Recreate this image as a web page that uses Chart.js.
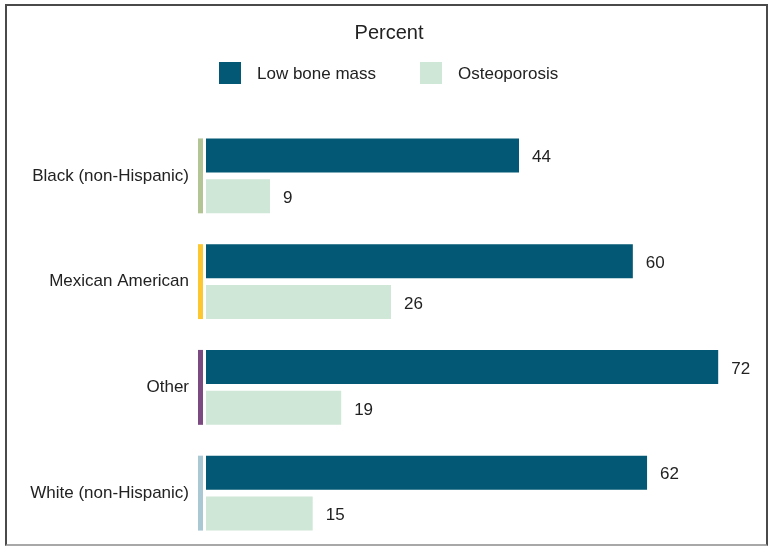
<!DOCTYPE html>
<html>
<head>
<meta charset="utf-8">
<script src="https://cdn.jsdelivr.net/npm/chart.js@4.4.1/dist/chart.umd.min.js"></script>
<style>
    html, body { margin: 0; padding: 0; background: #fff; }
    #wrap { position: relative; width: 768px; height: 546px; }
    #frame {
        position: absolute; left: 5px; top: 4px; width: 759px; height: 538px;
        border: 2px solid #4a4a4a; border-bottom-color: #a8a8a8;
        pointer-events: none;
    }
</style>
</head>
<body>
<div id="wrap">
    <canvas id="chart" width="768" height="546"></canvas>
    <div id="frame"></div>
</div>
<script>
'use strict';

const categories = ['Black (non-Hispanic)', 'Mexican American', 'Other', 'White (non-Hispanic)'];
const lowBoneMass = [44, 60, 72, 62];
const osteoporosis = [9, 26, 19, 15];
const groupColors = ['#b3c595', '#fdc82f', '#7b4a80', '#aac8d4'];

const fontFamily = '"Liberation Sans", Arial, Helvetica, sans-serif';
const textColor = '#222';

// custom legend, drawn above the bars
const legendPlugin = {
    id: 'customLegend',
    afterDraw (chart) {
        const ctx = chart.ctx;
        const items = [
            { x: 219, ds: chart.data.datasets[0] },
            { x: 420, ds: chart.data.datasets[1] }
        ];
        ctx.save();
        ctx.font = `17px ${fontFamily}`;
        ctx.textBaseline = 'middle';
        ctx.textAlign = 'left';
        items.forEach((item) => {
            ctx.fillStyle = item.ds.backgroundColor;
            ctx.fillRect(item.x, 62, 22, 22);
            ctx.fillStyle = textColor;
            ctx.fillText(item.ds.label, item.x + 38, 74);
        });
        ctx.restore();
    }
};

// coloured marker left of each group + value labels
const extrasPlugin = {
    id: 'extras',
    afterDatasetsDraw (chart) {
        const ctx = chart.ctx;
        const top = chart.getDatasetMeta(0).data;
        const bottom = chart.getDatasetMeta(1).data;
        ctx.save();
        top.forEach((bar, i) => {
            const y1 = bar.y - bar.height / 2;
            const y2 = bottom[i].y + bottom[i].height / 2;
            ctx.fillStyle = groupColors[i];
            ctx.fillRect(chart.chartArea.left - 8, y1, 5, y2 - y1);
        });
        ctx.font = `17px ${fontFamily}`;
        ctx.fillStyle = textColor;
        ctx.textBaseline = 'middle';
        ctx.textAlign = 'left';
        chart.data.datasets.forEach((ds, d) => {
            chart.getDatasetMeta(d).data.forEach((bar, i) => {
                ctx.fillText(ds.data[i], bar.x + 13, bar.y + 2);
            });
        });
        ctx.restore();
    }
};

new Chart(document.getElementById('chart'), {
    type: 'bar',
    data: {
        labels: categories,
        datasets: [{
            label: 'Low bone mass',
            data: lowBoneMass,
            backgroundColor: '#035875'
        }, {
            label: 'Osteoporosis',
            data: osteoporosis,
            backgroundColor: '#cfe7d6'
        }]
    },
    options: {
        responsive: false,
        animation: false,
        indexAxis: 'y',
        categoryPercentage: 0.774,
        barPercentage: 0.83,
        layout: {
            padding: { left: 10, right: 0, top: 0, bottom: 0 }
        },
        plugins: {
            legend: { display: false },
            tooltip: { enabled: false },
            title: {
                display: true,
                text: 'Percent',
                color: textColor,
                font: { family: fontFamily, size: 20, weight: 'normal' },
                padding: { top: 21, bottom: 78 }
            }
        },
        scales: {
            x: {
                display: false,
                min: 0,
                max: 79
            },
            y: {
                afterFit: (scale) => {
                    scale.width = 196;
                    scale.paddingTop = 0;
                    scale.paddingBottom = 0;
                },
                grid: { display: false, drawTicks: false },
                border: { display: false },
                ticks: {
                    padding: 17,
                    color: textColor,
                    font: { family: fontFamily, size: 17 }
                }
            }
        }
    },
    plugins: [legendPlugin, extrasPlugin]
});
</script>
</body>
</html>
